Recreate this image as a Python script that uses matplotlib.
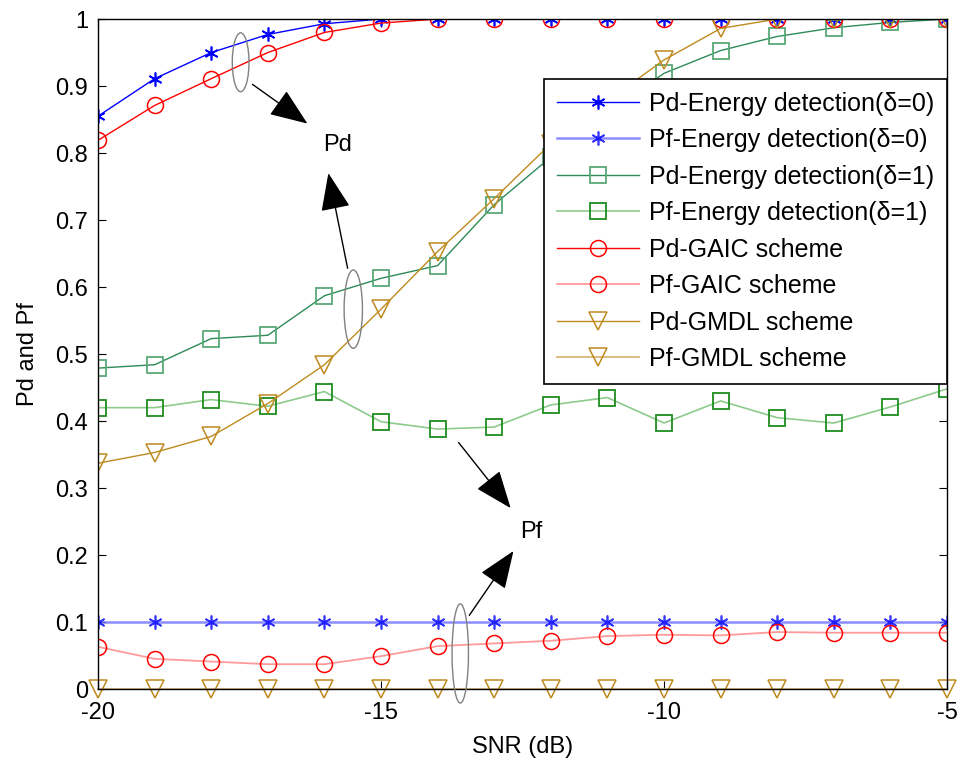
import matplotlib
matplotlib.use('Agg')
import matplotlib.pyplot as plt
from matplotlib.patches import Ellipse

# SNR grid and detection curves
snr = [-20, -19, -18, -17, -16, -15, -14, -13, -12, -11, -10, -9, -8, -7, -6, -5]

pd_ed0 = [0.855, 0.911, 0.950, 0.977, 0.993, 1.0, 1.0, 1.0, 1.0, 1.0, 1.0, 1.0, 1.0, 1.0, 1.0, 1.0]
pf_ed0 = [0.1, 0.1, 0.1, 0.1, 0.1, 0.1, 0.1, 0.1, 0.1, 0.1, 0.1, 0.1, 0.1, 0.1, 0.1, 0.1]
pd_ed1 = [0.479, 0.484, 0.523, 0.528, 0.587, 0.613, 0.632, 0.723, 0.794, 0.860, 0.919, 0.953, 0.974, 0.987, 0.995, 1.0]
pf_ed1 = [0.420, 0.420, 0.432, 0.422, 0.444, 0.399, 0.388, 0.391, 0.424, 0.435, 0.397, 0.430, 0.405, 0.397, 0.421, 0.448]
pd_gaic = [0.819, 0.871, 0.911, 0.950, 0.980, 0.994, 1.0, 1.0, 1.0, 1.0, 1.0, 1.0, 1.0, 1.0, 1.0, 1.0]
pf_gaic = [0.063, 0.045, 0.041, 0.037, 0.037, 0.049, 0.064, 0.068, 0.072, 0.079, 0.081, 0.080, 0.085, 0.084, 0.084, 0.084]
pd_gmdl = [0.337, 0.353, 0.377, 0.426, 0.484, 0.567, 0.653, 0.732, 0.814, 0.878, 0.939, 0.986, 1.0, 1.0, 1.0, 1.0]
pf_gmdl = [0.0, 0.0, 0.0, 0.0, 0.0, 0.0, 0.0, 0.0, 0.0, 0.0, 0.0, 0.0, 0.0, 0.0, 0.0, 0.0]

labels = ['Pd-Energy detection(\u03b4=0)', 'Pf-Energy detection(\u03b4=0)',
          'Pd-Energy detection(\u03b4=1)', 'Pf-Energy detection(\u03b4=1)',
          'Pd-GAIC scheme', 'Pf-GAIC scheme', 'Pd-GMDL scheme', 'Pf-GMDL scheme']

plt.rcParams['font.family'] = ['Liberation Sans', 'DejaVu Sans']
plt.rcParams['font.size'] = 17
plt.rcParams['axes.unicode_minus'] = False

fig = plt.figure(figsize=(9.57, 7.62), dpi=100)
ax = fig.add_axes([0.1024, 0.0958, 0.8872, 0.8792])

gold = '#BF8A1E'
ms = 11.5
ax.plot(snr, pd_ed0, color='blue', lw=1.0, marker=(6, 2, 0), ms=10, mew=1.2, label=labels[0])
ax.plot(snr, pf_ed0, color='#7070ff', lw=1.8, alpha=0.8, marker=(6, 2, 0), ms=10, mew=1.2,
        mec='blue', label=labels[1])
ax.plot(snr, pd_ed1, color='#2E8B57', lw=1.0, marker='s', ms=ms, mfc='none', mec='#5AA878',
        mew=1.3, label=labels[2])
ax.plot(snr, pf_ed1, color='#8CCB8C', lw=1.2, marker='s', ms=ms, mfc='none', mec='#1E8C1E',
        mew=1.3, label=labels[3])
ax.plot(snr, pd_gaic, color='red', lw=1.0, marker='o', ms=ms, mfc='none', mew=1.1, label=labels[4])
ax.plot(snr, pf_gaic, color='#ff9a9a', lw=1.3, marker='o', ms=ms, mfc='none', mec='red',
        mew=1.1, label=labels[5])
ax.plot(snr, pd_gmdl, color=gold, lw=1.0, marker='v', ms=13, mfc='none', mew=1.1, label=labels[6])
ax.plot(snr, pf_gmdl, color='#d9b878', lw=1.3, marker='v', ms=13, mfc='none', mec=gold,
        mew=1.1, label=labels[7], clip_on=False)

ax.set_xlim(-20, -5)
ax.set_ylim(0, 1)
ax.set_xticks([-20, -15, -10, -5])
ax.set_yticks([0, 0.1, 0.2, 0.3, 0.4, 0.5, 0.6, 0.7, 0.8, 0.9, 1])
ax.set_yticklabels(['0', '0.1', '0.2', '0.3', '0.4', '0.5', '0.6', '0.7', '0.8', '0.9', '1'])
ax.tick_params(direction='in', top=True, right=True, length=6, labelsize=17)
ax.tick_params(axis='x', pad=9)
ax.tick_params(axis='y', pad=7)
ax.set_xlabel('SNR (dB)', fontsize=17, labelpad=9)
ax.set_ylabel('Pd and Pf', fontsize=17, labelpad=12)
for s in ax.spines.values():
    s.set_linewidth(1.0)

# grouping ellipses
for cx, cy, w, h in [(-17.48, 0.9355, 0.295, 0.088), (-15.49, 0.567, 0.324, 0.117),
                     (-13.60, 0.053, 0.29, 0.148)]:
    ax.add_patch(Ellipse((cx, cy), w, h, fill=False, ec='#808080', lw=1.0, clip_on=False, zorder=5))

arrow = dict(arrowstyle='-|>,head_length=1.4,head_width=0.55', color='black', lw=1.0,
             shrinkA=0, shrinkB=0)
ax.annotate('', xy=(-16.30, 0.844), xytext=(-17.27, 0.9025), arrowprops=arrow)
ax.annotate('', xy=(-15.93, 0.770), xytext=(-15.59, 0.628), arrowprops=arrow)
ax.annotate('', xy=(-12.71, 0.270), xytext=(-13.63, 0.368), arrowprops=arrow)
ax.annotate('', xy=(-12.66, 0.206), xytext=(-13.44, 0.110), arrowprops=arrow)
ax.text(-15.76, 0.812, 'Pd', fontsize=17, ha='center', va='center')
ax.text(-12.35, 0.234, 'Pf', fontsize=17, ha='center', va='center')

leg = ax.legend(loc='upper right', bbox_to_anchor=(1.0, 0.9104), borderaxespad=0,
                fancybox=False, edgecolor='black', framealpha=1, numpoints=1,
                handlelength=3.3, handletextpad=0.4, labelspacing=0.5, borderpad=0.5,
                fontsize=18)
leg.get_frame().set_linewidth(1.2)

fig.savefig('out.png', dpi=100)
